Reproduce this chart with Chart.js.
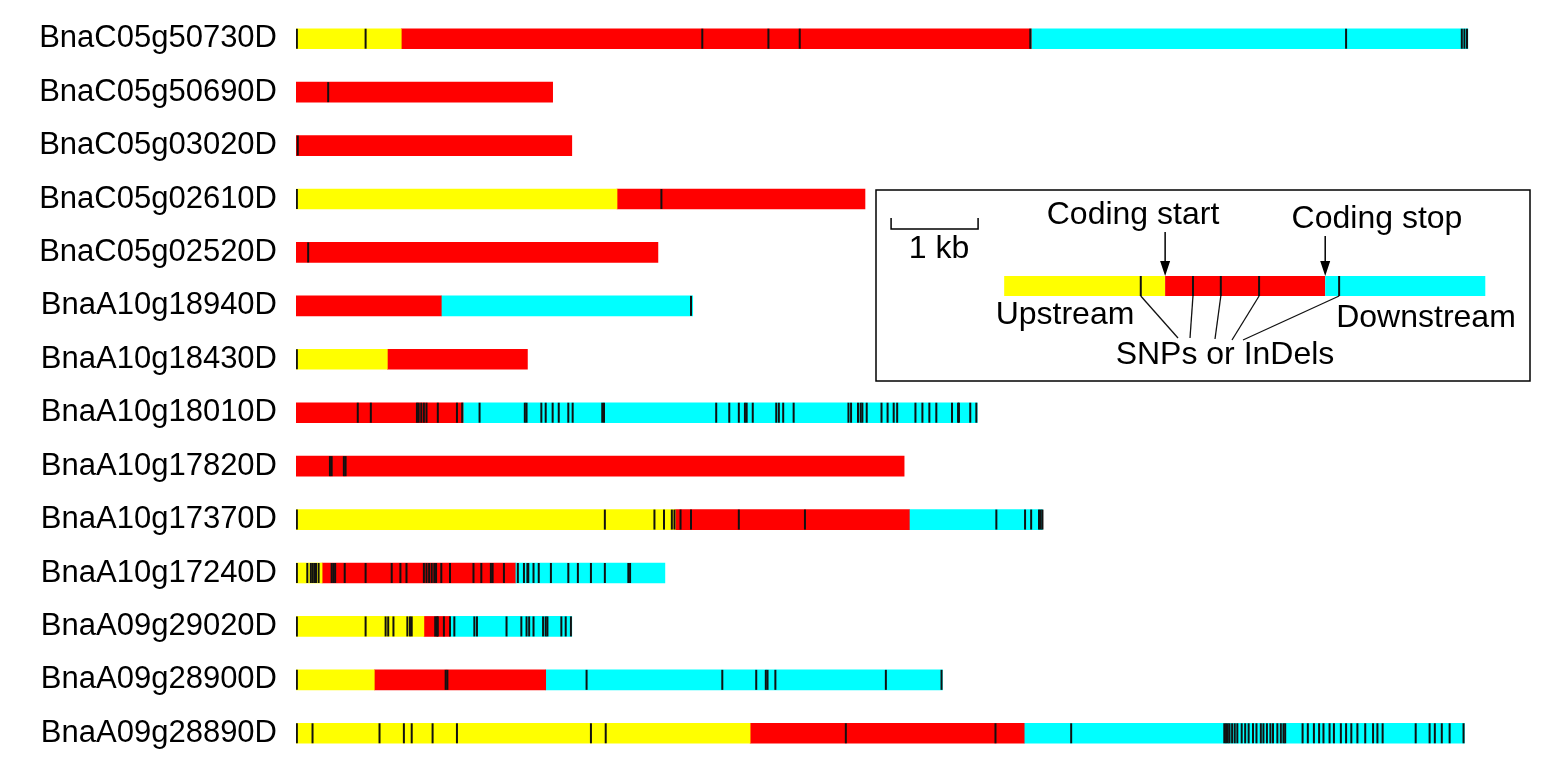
<!DOCTYPE html>
<html>
<head>
<meta charset="utf-8">
<title>SNPs and InDels in candidate genes</title>
<script src="https://cdn.jsdelivr.net/npm/chart.js@4.4.1/dist/chart.umd.min.js"></script>
<style>
  html, body { margin: 0; padding: 0; background: #fff; }
  #wrap { width: 1559px; height: 777px; position: relative; }
</style>
</head>
<body>
<div id="wrap"><canvas id="geneChart"></canvas></div>
<script>
// gene names, top to bottom
let genes = ["BnaC05g50730D", "BnaC05g50690D", "BnaC05g03020D", "BnaC05g02610D",
    "BnaC05g02520D", "BnaA10g18940D", "BnaA10g18430D", "BnaA10g18010D",
    "BnaA10g17820D", "BnaA10g17370D", "BnaA10g17240D", "BnaA09g29020D",
    "BnaA09g28900D", "BnaA09g28890D"];

// region lengths in kb
let upstreamKb   = [1.21, 0, 0, 3.69, 0, 0, 1.05, 0, 0, 4.36, 0.30, 1.47, 0.90, 5.22];
let codingKb     = [7.24, 2.95, 3.17, 2.85, 4.16, 1.67, 1.61, 1.92, 6.99, 2.69, 2.22, 0.30, 1.97, 3.15];
let downstreamKb = [5.02, 0, 0, 0, 0, 2.89, 0, 5.91, 0, 1.53, 1.72, 1.40, 4.56, 5.06];

// SNP / InDel positions (kb from gene start)
let snpKb = [
    [0.01, 0.80, 4.67, 5.43, 5.79, 8.44, 12.07, 13.40, 13.43, 13.46],
    [0.37],
    [0.02],
    [0.01, 4.20],
    [0.14],
    [4.54],
    [0.01],
    [0.71, 0.86, 1.39, 1.41, 1.44, 1.47, 1.50, 1.63, 1.85, 1.91, 2.11, 2.63, 2.65, 2.82, 2.87,
     2.95, 3.02, 3.13, 3.18, 3.52, 3.54, 4.83, 4.98, 5.09, 5.16, 5.18, 5.25, 5.52, 5.55, 5.60,
     5.72, 6.35, 6.38, 6.46, 6.49, 6.51, 6.56, 6.73, 6.80, 6.87, 6.91, 7.12, 7.20, 7.28, 7.36,
     7.54, 7.61, 7.62, 7.75, 7.82],
    [0.39, 0.41, 0.55, 0.57],
    [0.01, 3.55, 4.12, 4.23, 4.32, 4.35, 4.42, 4.54, 5.09, 5.85, 8.05, 8.38, 8.45, 8.54, 8.56, 8.58],
    [0.01, 0.13, 0.17, 0.19, 0.21, 0.23, 0.26, 0.41, 0.43, 0.45, 0.56, 0.80, 1.10, 1.20, 1.27,
     1.47, 1.50, 1.53, 1.56, 1.59, 1.61, 1.67, 1.77, 2.04, 2.13, 2.24, 2.26, 2.39, 2.55, 2.62,
     2.66, 2.67, 2.73, 2.79, 2.93, 3.13, 3.24, 3.39, 3.55, 3.82, 3.84],
    [0.01, 0.80, 1.03, 1.06, 1.12, 1.28, 1.31, 1.33, 1.60, 1.62, 1.63, 1.70, 1.77, 1.82, 2.05,
     2.08, 2.42, 2.59, 2.65, 2.68, 2.73, 2.84, 2.87, 2.89, 3.05, 3.10, 3.16],
    [0.01, 1.72, 1.74, 3.34, 4.90, 5.29, 5.40, 5.42, 5.51, 6.78, 7.42],
    [0.01, 0.19, 0.96, 1.24, 1.33, 1.57, 1.85, 3.39, 3.56, 6.32, 8.04, 8.91, 10.67, 10.69, 10.71,
     10.73, 10.76, 10.79, 10.82, 10.87, 10.91, 10.95, 11.00, 11.04, 11.09, 11.12, 11.16, 11.20,
     11.23, 11.28, 11.32, 11.35, 11.37, 11.57, 11.63, 11.70, 11.76, 11.81, 11.88, 11.93, 12.01,
     12.07, 12.13, 12.20, 12.29, 12.38, 12.43, 12.49, 12.87, 13.03, 13.09, 13.17, 13.26, 13.42]
];

// key (inset) model gene, in kb on the same x scale
let keyUpstream = [8.14, 9.99];
let keyCoding = [9.99, 11.83];
let keyDownstream = [11.83, 13.67];
let keySnps = [9.71, 10.31, 10.63, 11.07, 11.99];
let keyScaleBar = [6.84, 7.84];

let colors = { up: "#ffff00", cds: "#ff0000", down: "#00ffff", snp: "#111111" };
let font = '"Liberation Sans", Arial, sans-serif';

// floating bar segments [start, end]
let upSeg = upstreamKb.map(u => u > 0 ? [0, u] : null);
let cdsSeg = codingKb.map((c, i) => c > 0 ? [upstreamKb[i], upstreamKb[i] + c] : null);
let downSeg = downstreamKb.map((d, i) => {
    let s = upstreamKb[i] + codingKb[i];
    return d > 0 ? [s, s + d] : null;
});
let snpPoints = [];
snpKb.forEach((list, i) => list.forEach(v => snpPoints.push({ x: v, y: genes[i] })));

let keyPlugin = {
    id: "keyPlugin",
    afterDraw(chart) {
        let ctx = chart.ctx;
        let xs = chart.scales.x;
        let px = v => xs.getPixelForValue(v);
        ctx.save();
        ctx.strokeStyle = "#000";
        ctx.lineWidth = 1.5;
        ctx.strokeRect(876, 190, 654, 191);

        // 1 kb scale bar
        ctx.beginPath();
        ctx.moveTo(px(keyScaleBar[0]), 218);
        ctx.lineTo(px(keyScaleBar[0]), 229);
        ctx.lineTo(px(keyScaleBar[1]), 229);
        ctx.lineTo(px(keyScaleBar[1]), 218);
        ctx.stroke();

        // model gene
        let top = 276, h = 20;
        [[keyUpstream, colors.up], [keyCoding, colors.cds], [keyDownstream, colors.down]].forEach(([seg, c]) => {
            ctx.fillStyle = c;
            ctx.fillRect(px(seg[0]), top, px(seg[1]) - px(seg[0]), h);
        });

        // snp ticks and leader lines
        let leaderEnds = [[1178, 338], [1190, 338], [1215, 339], [1232, 340], [1243, 340]];
        ctx.strokeStyle = colors.snp;
        keySnps.forEach((v, i) => {
            let x = px(v);
            ctx.lineWidth = 2;
            ctx.beginPath();
            ctx.moveTo(x, top);
            ctx.lineTo(x, top + h);
            ctx.stroke();
            ctx.lineWidth = 1.3;
            ctx.beginPath();
            ctx.moveTo(x, top + h);
            ctx.lineTo(leaderEnds[i][0], leaderEnds[i][1]);
            ctx.stroke();
        });

        // arrows
        let arrow = (x, y0) => {
            ctx.strokeStyle = "#000";
            ctx.fillStyle = "#000";
            ctx.lineWidth = 1.5;
            ctx.beginPath();
            ctx.moveTo(x, y0);
            ctx.lineTo(x, top - 6);
            ctx.stroke();
            ctx.beginPath();
            ctx.moveTo(x, top);
            ctx.lineTo(x - 5, top - 15);
            ctx.lineTo(x + 5, top - 15);
            ctx.closePath();
            ctx.fill();
        };
        arrow(px(keyCoding[0]), 232);
        arrow(px(keyCoding[1]), 236);

        // texts
        ctx.fillStyle = "#000";
        ctx.font = "32px " + font;
        ctx.textAlign = "center";
        ctx.textBaseline = "alphabetic";
        ctx.fillText("1 kb", 939, 258);
        ctx.fillText("Coding start", 1133, 224);
        ctx.fillText("Coding stop", 1377, 228);
        ctx.fillText("Upstream", 1065, 324);
        ctx.fillText("Downstream", 1426, 327);
        ctx.fillText("SNPs or InDels", 1225, 364);
        ctx.restore();
    }
};

new Chart("geneChart", {
    type: "bar",
    data: {
        labels: genes,
        datasets: [
            {
                type: "scatter",
                data: snpPoints,
                pointStyle: "line",
                rotation: 90,
                radius: 10,
                hoverRadius: 10,
                borderWidth: 2,
                borderColor: colors.snp,
                backgroundColor: colors.snp
            },
            { data: upSeg, backgroundColor: colors.up },
            { data: cdsSeg, backgroundColor: colors.cds },
            { data: downSeg, backgroundColor: colors.down }
        ]
    },
    options: {
        indexAxis: "y",
        responsive: true,
        maintainAspectRatio: false,
        animation: false,
        events: [],
        datasets: {
            bar: { grouped: false, barThickness: 20, borderWidth: 0 }
        },
        layout: { padding: { top: 9, bottom: 17, left: 0, right: 45 } },
        scales: {
            x: { type: "linear", display: false, min: 0, max: 14 },
            y: {
                type: "category",
                labels: genes,
                offset: true,
                grid: { display: false, drawTicks: false },
                border: { display: false },
                ticks: { color: "#000", padding: 19, font: { family: font, size: 31 } },
                afterFit(scale) {
                    scale.width = 296;
                    scale.paddingTop = 0;
                    scale.paddingBottom = 0;
                }
            }
        },
        plugins: {
            legend: { display: false },
            tooltip: { enabled: false }
        }
    },
    plugins: [keyPlugin]
});
</script>
</body>
</html>
